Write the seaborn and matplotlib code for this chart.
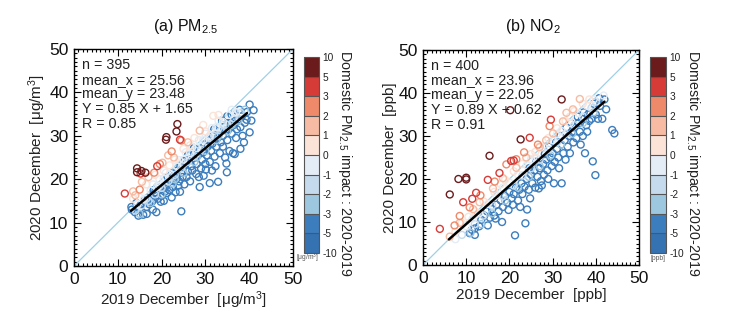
import numpy as np
import pandas as pd
import matplotlib
matplotlib.use("Agg")
import matplotlib.pyplot as plt
import seaborn as sns
from matplotlib.colors import ListedColormap, BoundaryNorm
from matplotlib.ticker import MultipleLocator
import matplotlib.cm as cm

sns.set_theme(style="ticks")
plt.rcParams["font.family"] = ["Liberation Sans", "DejaVu Sans"]
plt.rcParams["mathtext.default"] = "regular"

# ---------------- colour classes ----------------
impact_bounds = [-10, -5, -3, -2, -1, 0, 1, 2, 3, 5, 10]
impact_colors = ["#3472b2", "#3c7dbd", "#9cc7df", "#c6daed", "#e4ecf5",
                 "#fbe3d8", "#f6bba2", "#ee8a69", "#d73b37", "#6b1b1b"]

# ---------------- (a) PM2.5 points, grouped by impact class ----------------
pm_c7 = [(23.6, 32.7), (23.4, 31.0), (21.1, 29.7), (21.0, 29.1), (14.4, 22.5),
         (14.4, 21.6), (15.4, 21.9), (16.3, 21.5)]
pm_c4 = [(11.6, 16.7), (24.2, 29.1), (19.0, 23.0), (15.2, 21.3)]
pm_c25 = [(15.0, 17.6), (22.3, 26.4), (19.6, 23.5), (24.5, 28.9), (18.3, 21.5)]
pm_c15 = [(13.5, 17.2), (15.5, 19.4), (28.7, 31.2), (17.0, 20.5), (21.5, 25.5),
          (26.0, 28.5), (20.2, 23.8), (14.0, 16.3), (22.8, 25.0)]
pm_c05 = [(29.5, 32.5), (31.8, 34.6), (18.5, 21.0), (25.0, 27.0), (27.5, 29.5),
          (16.5, 18.8), (23.0, 24.5), (13.5, 15.5), (33.0, 34.8), (20.5, 22.0),
          (26.5, 27.8), (30.0, 31.0), (21.8, 23.2)]
pm_cm05 = [(14.5, 14.2), (16.0, 15.5), (17.5, 17.4), (19.0, 18.2), (20.5, 20.2),
           (22.0, 21.2), (23.5, 23.0), (25.0, 24.5), (26.5, 26.0), (28.0, 27.2),
           (29.5, 29.0), (31.0, 30.0), (32.5, 32.0), (34.0, 33.2), (35.5, 34.8),
           (37.0, 35.5), (18.0, 18.8), (21.0, 21.5), (24.0, 24.4), (27.0, 27.4),
           (30.0, 30.5), (33.0, 33.5), (36.0, 36.0), (15.0, 15.8), (19.5, 20.0),
           (25.5, 26.2), (28.5, 29.0), (31.5, 31.8)]
pm_cm15 = [(14.0, 12.8), (15.5, 14.0), (17.0, 15.0), (18.5, 16.5), (20.0, 18.0),
           (21.5, 19.5), (23.0, 21.0), (24.5, 22.5), (26.0, 24.0), (27.5, 25.3),
           (29.0, 26.8), (30.5, 28.5), (32.0, 30.0), (33.5, 31.2), (35.0, 32.5),
           (36.5, 34.0), (38.0, 35.3), (16.5, 15.5), (22.0, 20.5), (25.0, 23.5),
           (28.0, 26.5), (31.0, 29.5), (34.0, 32.5), (37.0, 35.2), (19.5, 18.5),
           (33.0, 31.8)]
pm_cm25 = [(15.0, 12.0), (17.5, 14.5), (20.0, 16.5), (22.5, 19.0), (25.0, 21.5),
           (27.5, 24.0), (30.0, 26.5), (32.5, 29.0), (35.0, 31.0), (37.5, 33.5),
           (39.0, 36.0), (23.0, 20.0), (28.0, 25.0), (33.0, 30.0), (36.0, 32.5)]
pm_cm4 = [(13.2, 13.0), (13.9, 12.4), (14.7, 11.6), (15.8, 11.8), (16.6, 12.0),
          (13.1, 13.6), (16.6, 13.6), (14.2, 14.5), (15.0, 13.2), (15.4, 14.3),
          (16.0, 15.0), (16.9, 15.5), (17.2, 14.2), (18.0, 13.0), (18.8, 12.4),
          (17.5, 16.0), (18.0, 15.2), (18.5, 17.0), (18.8, 16.3), (19.2, 15.5),
          (19.5, 17.5), (19.8, 14.8), (20.0, 16.2), (20.3, 17.8), (20.7, 17.1),
          (20.5, 15.0), (19.0, 18.2), (18.2, 17.5), (17.8, 14.8),
          (21.0, 18.5), (21.2, 16.8), (21.5, 19.2), (21.8, 17.5), (22.0, 20.0),
          (22.3, 15.8), (22.6, 18.2), (22.8, 19.5), (23.0, 21.0), (23.2, 17.0),
          (23.5, 20.2), (23.8, 18.5), (21.4, 20.5), (22.4, 21.3), (23.6, 22.0),
          (24.0, 19.5), (24.2, 17.1), (24.5, 12.6), (24.5, 21.5), (24.8, 20.5),
          (25.0, 22.8), (25.2, 18.8), (25.5, 23.5), (25.7, 20.5), (26.0, 21.8),
          (26.2, 24.5), (26.5, 19.5), (26.8, 23.0), (24.3, 23.0), (25.3, 24.2),
          (26.0, 25.5), (27.0, 22.0), (27.2, 24.8), (27.5, 26.0), (27.9, 21.2),
          (28.0, 23.5), (28.3, 25.5), (28.7, 18.2), (28.8, 27.0), (29.0, 22.5),
          (29.2, 24.5), (29.5, 26.2), (29.8, 28.0), (30.0, 23.5), (30.1, 22.2),
          (27.4, 27.2), (28.5, 20.5), (29.6, 20.8), (30.3, 25.5), (30.5, 27.5),
          (30.8, 29.0), (31.0, 19.1), (31.0, 24.0), (31.3, 26.5), (31.6, 28.2),
          (31.8, 30.0), (32.1, 25.2), (32.3, 23.0), (32.5, 27.5), (32.8, 29.5),
          (32.9, 19.4), (33.0, 31.0), (33.3, 26.0), (33.5, 28.5), (31.5, 22.0),
          (32.0, 31.5), (34.0, 27.5), (34.0, 30.0), (34.3, 32.0), (34.8, 23.6),
          (34.9, 21.6), (35.0, 29.0), (35.3, 31.5), (35.5, 26.5), (35.8, 33.0),
          (36.0, 30.5), (36.3, 26.0), (36.5, 32.5), (36.7, 25.8), (33.8, 33.5),
          (35.0, 34.5), (36.0, 34.8), (34.5, 25.0), (37.0, 29.5), (37.2, 31.5),
          (37.5, 33.8), (38.0, 27.0), (38.0, 32.0), (38.3, 34.5), (38.5, 30.0),
          (39.0, 33.0), (39.4, 33.7), (40.1, 30.8), (40.1, 37.2), (41.0, 35.9),
          (39.5, 35.5), (37.8, 36.0), (40.5, 33.5), (38.8, 28.5)]

# ---------------- (b) NO2 points, grouped by impact class ----------------
no2_c7 = [(32.1, 38.5), (20.2, 36.0), (22.6, 29.2), (15.4, 25.4), (8.2, 20.0),
          (10.0, 19.9), (10.0, 20.3), (6.2, 16.4)]
no2_c4 = [(3.9, 8.4), (20.4, 24.2), (24.7, 29.6), (29.6, 33.8), (15.0, 19.8),
          (12.3, 16.8), (9.3, 14.6), (11.4, 15.4), (17.7, 21.4), (21.0, 24.3)]
no2_c25 = [(23.4, 26.2), (26.6, 28.0), (29.3, 32.3), (13.3, 16.2), (10.8, 13.4),
           (8.5, 11.4), (7.3, 9.2), (19.3, 23.4), (16.6, 19.4), (21.6, 24.6)]
no2_c15 = [(6.2, 6.6), (8.5, 9.8), (11.6, 13.0), (13.1, 14.6), (16.2, 17.8),
           (18.5, 20.2), (21.6, 22.6), (23.9, 25.0), (27.0, 27.4), (30.1, 30.6),
           (32.4, 33.4), (34.7, 36.2), (36.3, 38.6), (33.2, 35.4), (28.5, 29.0)]
no2_c05 = [(9.0, 9.8), (12.0, 12.5), (14.0, 14.8), (16.5, 17.0), (19.0, 19.8),
           (21.0, 21.8), (23.0, 23.5), (25.0, 25.8), (27.0, 27.6), (29.0, 29.5),
           (31.0, 31.8), (33.0, 33.5), (35.0, 35.8), (37.0, 37.5), (38.5, 38.5),
           (7.5, 7.8), (10.5, 11.2), (18.0, 18.8), (26.0, 26.3), (34.0, 34.5)]
no2_cm05 = [(7.5, 6.0), (10.0, 9.0), (13.0, 12.0), (15.0, 14.2), (17.0, 16.2),
            (20.0, 19.2), (22.0, 21.0), (24.0, 23.2), (26.0, 25.0), (28.0, 27.3),
            (30.0, 29.0), (32.0, 31.2), (34.0, 33.0), (36.0, 35.3), (38.0, 37.0),
            (39.5, 38.5), (11.5, 10.8), (18.5, 18.0), (25.0, 24.6), (31.0, 30.5),
            (41.8, 39.4)]
no2_cm15 = [(9.0, 7.0), (12.0, 9.5), (14.0, 11.5), (16.0, 13.8), (18.5, 16.0),
            (21.0, 18.5), (23.0, 20.8), (25.0, 22.5), (27.0, 24.5), (29.0, 26.8),
            (31.0, 28.5), (33.0, 30.5), (35.0, 32.5), (37.0, 34.5), (39.0, 36.5),
            (40.0, 38.0)]
no2_cm25 = [(11.0, 7.5), (13.5, 9.5), (16.0, 12.0), (19.0, 15.0), (22.0, 18.0),
            (24.5, 20.5), (27.0, 23.0), (29.5, 25.5), (32.0, 28.0), (34.5, 30.5),
            (37.0, 33.0), (39.5, 35.5)]
no2_cm4 = [(12.0, 8.5), (13.0, 9.0), (13.5, 10.5), (14.2, 11.5), (14.8, 12.5),
           (15.5, 11.0), (16.0, 13.0), (16.5, 11.5), (17.0, 14.0), (17.5, 12.5),
           (18.0, 15.0), (18.3, 10.0), (18.5, 13.5), (19.0, 16.0), (19.5, 14.5),
           (20.0, 17.0), (20.5, 15.5), (21.0, 16.5), (21.3, 6.9), (21.5, 18.0),
           (22.0, 15.0), (22.3, 17.5), (22.8, 19.0), (23.0, 16.5), (23.5, 18.2),
           (23.7, 9.7), (24.1, 12.9), (24.0, 20.0), (24.5, 17.5), (25.0, 21.0),
           (25.3, 19.0), (25.8, 22.0), (26.0, 18.0), (26.5, 20.5), (27.0, 22.5),
           (27.3, 19.5), (27.8, 23.5), (28.0, 21.0), (28.5, 24.5), (28.8, 22.0),
           (29.0, 20.0), (29.5, 25.0), (29.8, 23.0), (30.0, 26.0), (30.3, 19.0),
           (30.5, 24.0), (31.0, 27.0), (31.3, 25.0), (31.5, 22.5), (32.0, 28.0),
           (32.1, 19.0), (32.5, 26.0), (32.8, 29.0), (33.0, 24.5), (33.5, 27.5),
           (33.8, 30.0), (34.0, 26.0), (34.5, 31.0), (34.8, 28.5), (35.0, 32.0),
           (35.5, 29.5), (36.0, 33.0), (36.3, 31.0), (36.8, 34.0), (37.0, 30.0),
           (37.5, 26.0), (37.8, 32.5), (38.2, 35.0), (38.5, 33.5), (39.0, 34.0),
           (39.3, 24.1), (39.9, 20.9), (40.0, 35.0), (40.5, 34.0), (41.0, 37.0),
           (41.5, 34.0), (42.4, 36.2), (43.8, 31.4), (44.3, 30.6), (42.0, 38.5),
           (15.0, 9.2), (11.3, 8.2), (10.8, 7.4), (12.0, 7.0), (16.8, 10.8),
           (19.8, 12.8), (20.8, 14.0), (26.8, 17.8), (27.5, 18.5), (22.5, 13.5),
           (24.8, 15.5), (28.2, 25.8), (31.8, 30.0), (33.2, 32.0), (35.8, 34.5),
           (26.2, 24.0), (24.6, 22.5), (30.8, 28.5), (29.2, 27.5), (36.5, 28.0),
           (38.0, 31.0), (34.2, 33.0), (37.2, 35.5), (39.5, 37.5), (40.8, 38.8)]

class_values = [-4, -2.5, -1.5, -0.5, 0.5, 1.5, 2.5, 4, 7]
pm_groups = [pm_cm4, pm_cm25, pm_cm15, pm_cm05, pm_c05, pm_c15, pm_c25, pm_c4, pm_c7]
no2_groups = [no2_cm4, no2_cm25, no2_cm15, no2_cm05, no2_c05, no2_c15, no2_c25, no2_c4, no2_c7]

# statistics / fit text
pm_stats = ["n = 395", "mean_x = 25.56", "mean_y = 23.48", "Y = 0.85 X + 1.65", "R = 0.85"]
no2_stats = ["n = 400", "mean_x = 23.96", "mean_y = 22.05", "Y = 0.89 X + 0.62", "R = 0.91"]
pm_fit = (0.85, 1.65)
no2_fit = (0.89, 0.62)
pm_fit_xrange = (13.0, 39.5)
no2_fit_xrange = (6.0, 42.0)

cb_tick_labels = ["-10", "-5", "-3", "-2", "-1", "0", "1", "2", "3", "5", "10"]


def build_df(groups):
    rows = []
    for val, pts in zip(class_values, groups):
        for (x, y) in pts:
            rows.append((x, y, val))
    return pd.DataFrame(rows, columns=["x", "y", "impact"])


cmap = ListedColormap(impact_colors)
norm = BoundaryNorm(impact_bounds, cmap.N)

fig = plt.figure(figsize=(7.29, 3.24), dpi=100)
fig.patch.set_facecolor("white")

W, H = 729.0, 324.0


def fbox(l, r, t, b):
    return [l / W, 1 - b / H, (r - l) / W, (b - t) / H]


def draw_panel(ax_box, cax_box, groups, stats, fit, fit_xr, title, unit, title_x, unit_txt):
    ax = fig.add_axes(fbox(*ax_box))
    cax = fig.add_axes(fbox(*cax_box))
    df = build_df(groups)
    sns.scatterplot(data=df, x="x", y="y", hue="impact", palette=cmap, hue_norm=norm,
                    legend=False, s=25, ax=ax, zorder=3)
    coll = ax.collections[-1]
    fc = coll.get_facecolors()
    coll.set_edgecolors(fc)
    coll.set_facecolors("none")
    coll.set_linewidths(1.0)
    # 1:1 line
    ax.plot([0, 50], [0, 50], color="#9fd0e6", lw=0.9, zorder=2)
    # regression line
    fx = np.array(fit_xr)
    ax.plot(fx, fit[0] * fx + fit[1], color="black", lw=1.8, zorder=4)

    ax.set_xlim(0, 50)
    ax.set_ylim(0, 50)
    ax.xaxis.set_major_locator(MultipleLocator(10))
    ax.yaxis.set_major_locator(MultipleLocator(10))
    ax.xaxis.set_minor_locator(MultipleLocator(1))
    ax.yaxis.set_minor_locator(MultipleLocator(1))
    ax.tick_params(which="both", direction="in", top=True, right=True,
                   bottom=True, left=True, color="black", width=0.8)
    ax.tick_params(which="major", length=5, labelsize=12.5, pad=4, labelcolor="#111111")
    ax.tick_params(which="minor", length=2.5)
    for sp in ax.spines.values():
        sp.set_visible(True)
        sp.set_color("black")
        sp.set_linewidth(1.0)
    ax.set_xlabel("2019 December  " + unit, fontsize=11, labelpad=2, color="#222222")
    ax.set_ylabel("2020 December  " + unit, fontsize=11, labelpad=1, color="#222222")
    ax.text(0.035, 0.96, "\n".join(stats), transform=ax.transAxes, va="top", ha="left",
            fontsize=10.3, linespacing=1.08, color="#222222", zorder=5)
    fig.text(title_x / W, 1 - 27 / H, title, ha="center", va="center", fontsize=11.5,
             color="#111111")

    # colorbar
    sm = cm.ScalarMappable(norm=norm, cmap=cmap)
    cb = fig.colorbar(sm, cax=cax, boundaries=impact_bounds, ticks=impact_bounds,
                      spacing="uniform", drawedges=True)
    cb.dividers.set_color("#555555")
    cb.dividers.set_linewidth(0.8)
    cb.outline.set_edgecolor("#555555")
    cb.outline.set_linewidth(0.8)
    cb.ax.set_yticklabels(cb_tick_labels)
    cb.ax.tick_params(length=0, labelsize=7.3, pad=2.5, colors="#222222")
    cb.set_label("Domestic PM$_{2.5}$ impact : 2020-2019", rotation=270, fontsize=10.3,
                 va="bottom", color="#222222")
    cb.ax.yaxis.set_label_coords(2.15, 0.46)
    fig.text((cax_box[1] - 0.5) / W, 1 - 258 / H, unit_txt, fontsize=4.8, ha="right",
             va="center", color="#555555")
    return ax


draw_panel((74, 293, 49, 266), (304, 319, 57, 253), pm_groups, pm_stats, pm_fit,
           pm_fit_xrange, "(a) PM$_{2.5}$", "[μg/m$^3$]", 186, "[μg/m$^3$]")
draw_panel((423, 639, 50, 265), (650, 666, 57, 253), no2_groups, no2_stats, no2_fit,
           no2_fit_xrange, "(b) NO$_2$", "[ppb]", 533, "[ppb]")

fig.savefig("out.png", dpi=100, facecolor="white")
